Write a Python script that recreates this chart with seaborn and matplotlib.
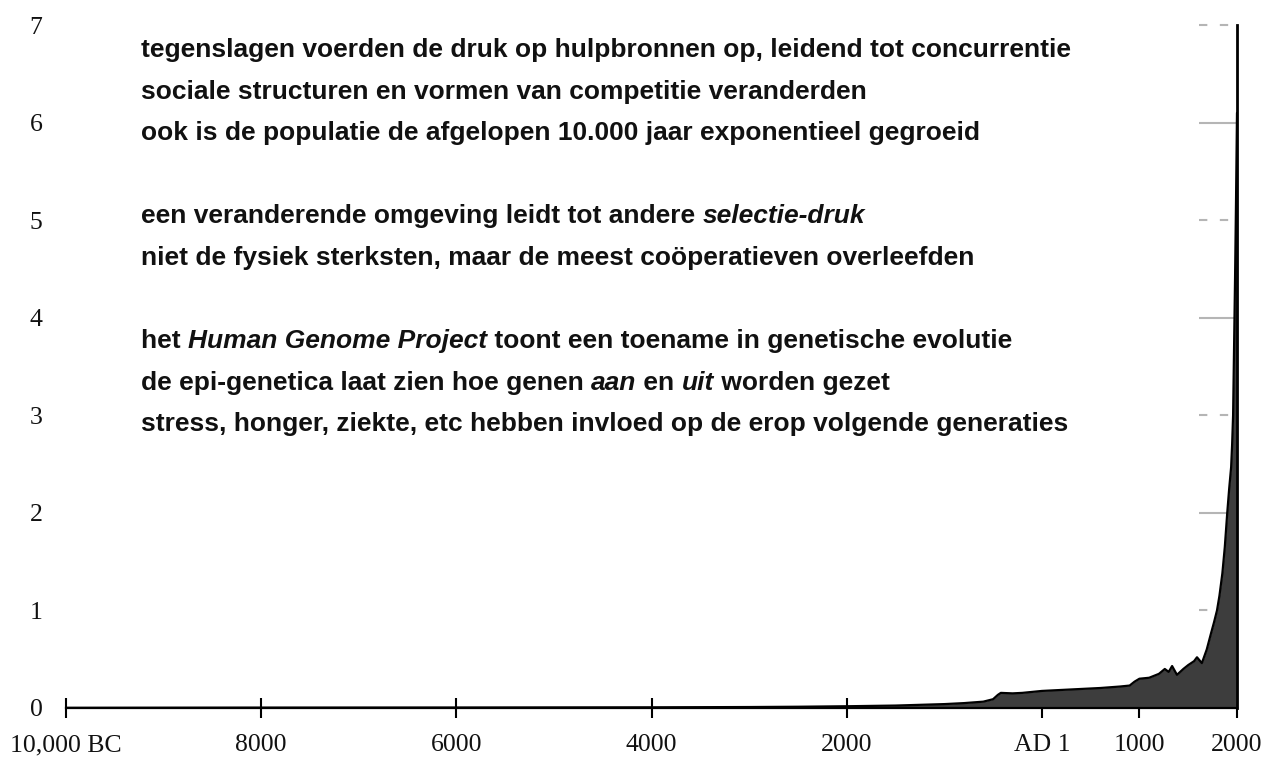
import numpy as np
import pandas as pd
import matplotlib
matplotlib.use('Agg')
import matplotlib.pyplot as plt
import seaborn as sns

############# DATA ################

# world population in billions
years = [-10000, -8000, -6000, -5000, -4000, -3000, -2500, -2000, -1500, -1000,
         -800, -600, -500, -450, -420, -300, -200, 1, 200, 400,
         600, 800, 900, 950, 1000, 1100, 1200, 1260, 1300, 1335, 1385, 1450,
         1500, 1560, 1590, 1640, 1690, 1735, 1765, 1795, 1820, 1850, 1875, 1900,
         1920, 1940, 1950, 1960, 1970, 1980, 1990, 2000]
population = [0.002, 0.004, 0.005, 0.006, 0.007, 0.010, 0.013, 0.018, 0.025, 0.040,
              0.050, 0.065, 0.090, 0.135, 0.155, 0.150, 0.155, 0.175, 0.185, 0.195,
              0.205, 0.220, 0.230, 0.270, 0.300, 0.310, 0.350, 0.400, 0.370, 0.430, 0.340, 0.400,
              0.440, 0.480, 0.520, 0.460, 0.600, 0.770, 0.880, 1.000, 1.150, 1.380, 1.650, 2.000,
              2.250, 2.470, 2.700, 3.000, 3.700, 4.400, 5.200, 6.100]

xtick_values = [-10000, -8000, -6000, -4000, -2000, 0, 1000, 2000]
xtick_labels = ['10,000 BC', '8000', '6000', '4000', '2000', 'AD 1', '1000', '2000']
ytick_values = [0, 1, 2, 3, 4, 5, 6, 7]
dashed_levels = [1, 3, 5, 7]
solid_levels = [2, 4, 6]

# text lines: list of (piece, italic); empty list = blank line
text_lines = [
    [("tegenslagen voerden de druk op hulpbronnen op, leidend tot concurrentie", False)],
    [("sociale structuren en vormen van competitie veranderden", False)],
    [("ook is de populatie de afgelopen 10.000 jaar exponentieel gegroeid", False)],
    [],
    [("een veranderende omgeving leidt tot andere ", False), ("selectie-druk", True)],
    [("niet de fysiek sterksten, maar de meest coöperatieven overleefden", False)],
    [],
    [("het ", False), ("Human Genome Project", True),
     (" toont een toename in genetische evolutie", False)],
    [("de epi-genetica laat zien hoe genen ", False), ("aan", True), (" en ", False),
     ("uit", True), (" worden gezet", False)],
    [("stress, honger, ziekte, etc hebben invloed op de erop volgende generaties", False)],
]

df = pd.DataFrame({'year': years, 'population': population})

############# PLOT ################

sns.set_theme(style='white')
plt.rcParams['font.family'] = ['Liberation Serif', 'DejaVu Serif']

W, H = 1276, 762
fig = plt.figure(figsize=(W / 100, H / 100), dpi=100)
ax = fig.add_axes([66 / W, 54 / H, (1237 - 66) / W, (708 - 25) / H])

# short reference lines at the right edge, behind the curve
ax.hlines(solid_levels, 0.9675, 1.0, transform=ax.get_yaxis_transform(),
          colors='#b5b5b5', linewidth=1.5, zorder=1, clip_on=False)
ax.hlines(dashed_levels, 0.9675, 1.0, transform=ax.get_yaxis_transform(),
          colors='#b5b5b5', linewidth=1.5, linestyles=[(0, (4, 6))], zorder=1, clip_on=False)

ax.fill_between(df['year'], df['population'], color='#3d3d3d', linewidth=0, zorder=2)
sns.lineplot(data=df, x='year', y='population', color='black', linewidth=1.6, ax=ax, zorder=3)

ax.set_xlim(-10000, 2000)
ax.set_ylim(0, 7)
ax.set_xlabel('')
ax.set_ylabel('')
ax.set_xticks(xtick_values)
ax.set_xticklabels(xtick_labels)
ax.set_yticks(ytick_values)
ax.set_yticklabels([str(v) for v in ytick_values])

ax.tick_params(axis='x', direction='inout', length=14, width=1.5, color='black',
               pad=12, labelsize=18.5, colors='#111111', bottom=True)
ax.tick_params(axis='y', length=0, pad=17, labelsize=18.5, colors='#111111', left=True)

for side in ['left', 'top']:
    ax.spines[side].set_visible(False)
ax.spines['bottom'].set_linewidth(1.6)
ax.spines['bottom'].set_color('black')
ax.spines['right'].set_linewidth(2.0)
ax.spines['right'].set_color('black')
ax.spines['right'].set_zorder(4)

# overlay text, pieces chained so italics sit inline
base_y = 1 - 57 / H
step = 41.6 / H
for i, pieces in enumerate(text_lines):
    if not pieces:
        continue
    y = base_y - i * step
    prev = None
    for s, italic in pieces:
        kw = dict(fontsize=19, fontweight='bold', color='#111111',
                  style='italic' if italic else 'normal',
                  family=['Liberation Sans', 'DejaVu Sans'])
        if prev is None:
            prev = ax.text(141 / W, y, s, transform=fig.transFigure, va='baseline', **kw)
        else:
            prev = ax.annotate(s, xy=(1, 0), xycoords=prev, va='bottom', **kw)

fig.savefig('out.png', dpi=100)
